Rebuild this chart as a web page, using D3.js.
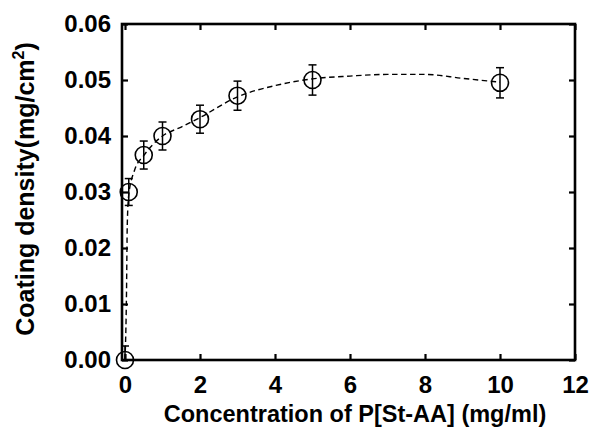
<!DOCTYPE html>
<html>
<head>
<meta charset="utf-8">
<script src="https://cdn.jsdelivr.net/npm/d3@7"></script>
<style>
  body { margin: 0; background: #fff; }
  text { font-family: "Liberation Sans", Arial, sans-serif; font-weight: bold; fill: #000; }
</style>
</head>
<body>
<svg class="chart" width="591" height="427"></svg>
<script>
// measured points
var concentration = [0, 0.1, 0.5, 1, 2, 3, 5, 10];
var density = [0, 0.0300, 0.0366, 0.0400, 0.0430, 0.0472, 0.0500, 0.0495];
var densityErr = [0.0025, 0.0024, 0.0025, 0.0025, 0.0025, 0.0026, 0.0027, 0.0027];

// dashed guide curve
var fitX = [0, 0.04, 0.06, 0.1, 0.25, 0.5, 1, 1.5, 2, 3, 4, 5, 6, 7, 8, 9, 10];
var fitY = [0, 0.012, 0.024, 0.0295, 0.0338, 0.0365, 0.0400, 0.0416, 0.0433, 0.0470, 0.0490, 0.0502, 0.0507, 0.0510, 0.0510, 0.0503, 0.0496];

var xTicks = [0, 2, 4, 6, 8, 10, 12];
var yTicks = [0, 0.01, 0.02, 0.03, 0.04, 0.05, 0.06];

var margin = { top: 24, left: 122 },
    width = 453,
    height = 336;

var chart = d3.select(".chart");

var wrapper = chart.append("g")
    .attr("transform", "translate(" + margin.left + "," + margin.top + ")");

var x = d3.scaleLinear()
    .domain([-0.08, 12])
    .range([0, width]);

var y = d3.scaleLinear()
    .domain([0, 0.06])
    .range([height, 0]);

// axes, ticks pointing inward
var xAxis = d3.axisBottom(x).tickValues(xTicks).tickFormat(d3.format("d"))
    .tickSizeInner(-6).tickSizeOuter(0).tickPadding(16);
var yAxis = d3.axisLeft(y).tickValues(yTicks).tickFormat(d3.format(".2f"))
    .tickSizeInner(-6).tickSizeOuter(0).tickPadding(11);
var xTop = d3.axisTop(x).tickValues(xTicks).tickFormat("")
    .tickSizeInner(-6).tickSizeOuter(0);
var yRight = d3.axisRight(y).tickValues(yTicks).tickFormat("")
    .tickSizeInner(-6).tickSizeOuter(0);

wrapper.append("g").attr("class", "xAxis")
    .attr("transform", "translate(0," + height + ")").call(xAxis);
wrapper.append("g").attr("class", "yAxis").call(yAxis);
wrapper.append("g").attr("class", "xTop").call(xTop);
wrapper.append("g").attr("class", "yRight")
    .attr("transform", "translate(" + width + ",0)").call(yRight);

wrapper.selectAll(".domain").remove();
wrapper.selectAll(".tick line")
    .style("stroke", "#000")
    .style("stroke-width", 2.2);
wrapper.selectAll(".tick text")
    .style("font-size", "24px")
    .style("font-family", "'Liberation Sans', Arial, sans-serif")
    .style("font-weight", "bold")
    .attr("fill", "#000");

// frame
wrapper.append("rect")
    .attr("x", 0).attr("y", 0)
    .attr("width", width).attr("height", height)
    .style("fill", "none")
    .style("stroke", "#000")
    .style("stroke-width", 2.6);

// dashed curve
var fitData = fitX.map(function (d, i) { return { x: d, y: fitY[i] }; });
var line = d3.line()
    .x(function (d) { return x(d.x); })
    .y(function (d) { return y(d.y); })
    .curve(d3.curveMonotoneX);

wrapper.append("path")
    .datum(fitData)
    .attr("d", line)
    .style("fill", "none")
    .style("stroke", "#000")
    .style("stroke-width", 1.4)
    .style("stroke-dasharray", "5.5,3.5");

var points = concentration.map(function (d, i) {
    return { x: d, y: density[i], e: densityErr[i] };
});

// error bars
var eb = wrapper.selectAll(".err")
    .data(points)
    .enter()
    .append("g")
    .attr("class", "err")
    .style("stroke", "#000")
    .style("stroke-width", 1.5);

eb.append("line")
    .attr("x1", function (d) { return x(d.x); })
    .attr("x2", function (d) { return x(d.x); })
    .attr("y1", function (d) { return y(d.y + d.e); })
    .attr("y2", function (d) { return y(Math.max(0, d.y - d.e)); });
eb.append("line")
    .attr("x1", function (d) { return x(d.x) - 4; })
    .attr("x2", function (d) { return x(d.x) + 4; })
    .attr("y1", function (d) { return y(d.y + d.e); })
    .attr("y2", function (d) { return y(d.y + d.e); });
eb.filter(function (d) { return d.y - d.e > 0; })
    .append("line")
    .attr("x1", function (d) { return x(d.x) - 4; })
    .attr("x2", function (d) { return x(d.x) + 4; })
    .attr("y1", function (d) { return y(d.y - d.e); })
    .attr("y2", function (d) { return y(d.y - d.e); });

// markers
wrapper.selectAll(".dot")
    .data(points)
    .enter()
    .append("circle")
    .attr("class", "dot")
    .attr("cx", function (d) { return x(d.x); })
    .attr("cy", function (d) { return y(d.y); })
    .attr("r", 8.5)
    .style("fill", "none")
    .style("stroke", "#000")
    .style("stroke-width", 1.6);

// axis titles
chart.append("text")
    .attr("x", 355)
    .attr("y", 422)
    .attr("text-anchor", "middle")
    .style("font-size", "23.5px")
    .text("Concentration of P[St-AA] (mg/ml)");

var yt = chart.append("text")
    .attr("transform", "translate(34,189) rotate(-90)")
    .attr("text-anchor", "middle")
    .style("font-size", "25px");
yt.append("tspan").text("Coating density(mg/cm");
yt.append("tspan").attr("dy", -10).style("font-size", "16px").text("2");
yt.append("tspan").attr("dy", 10).text(")");
</script>
</body>
</html>
